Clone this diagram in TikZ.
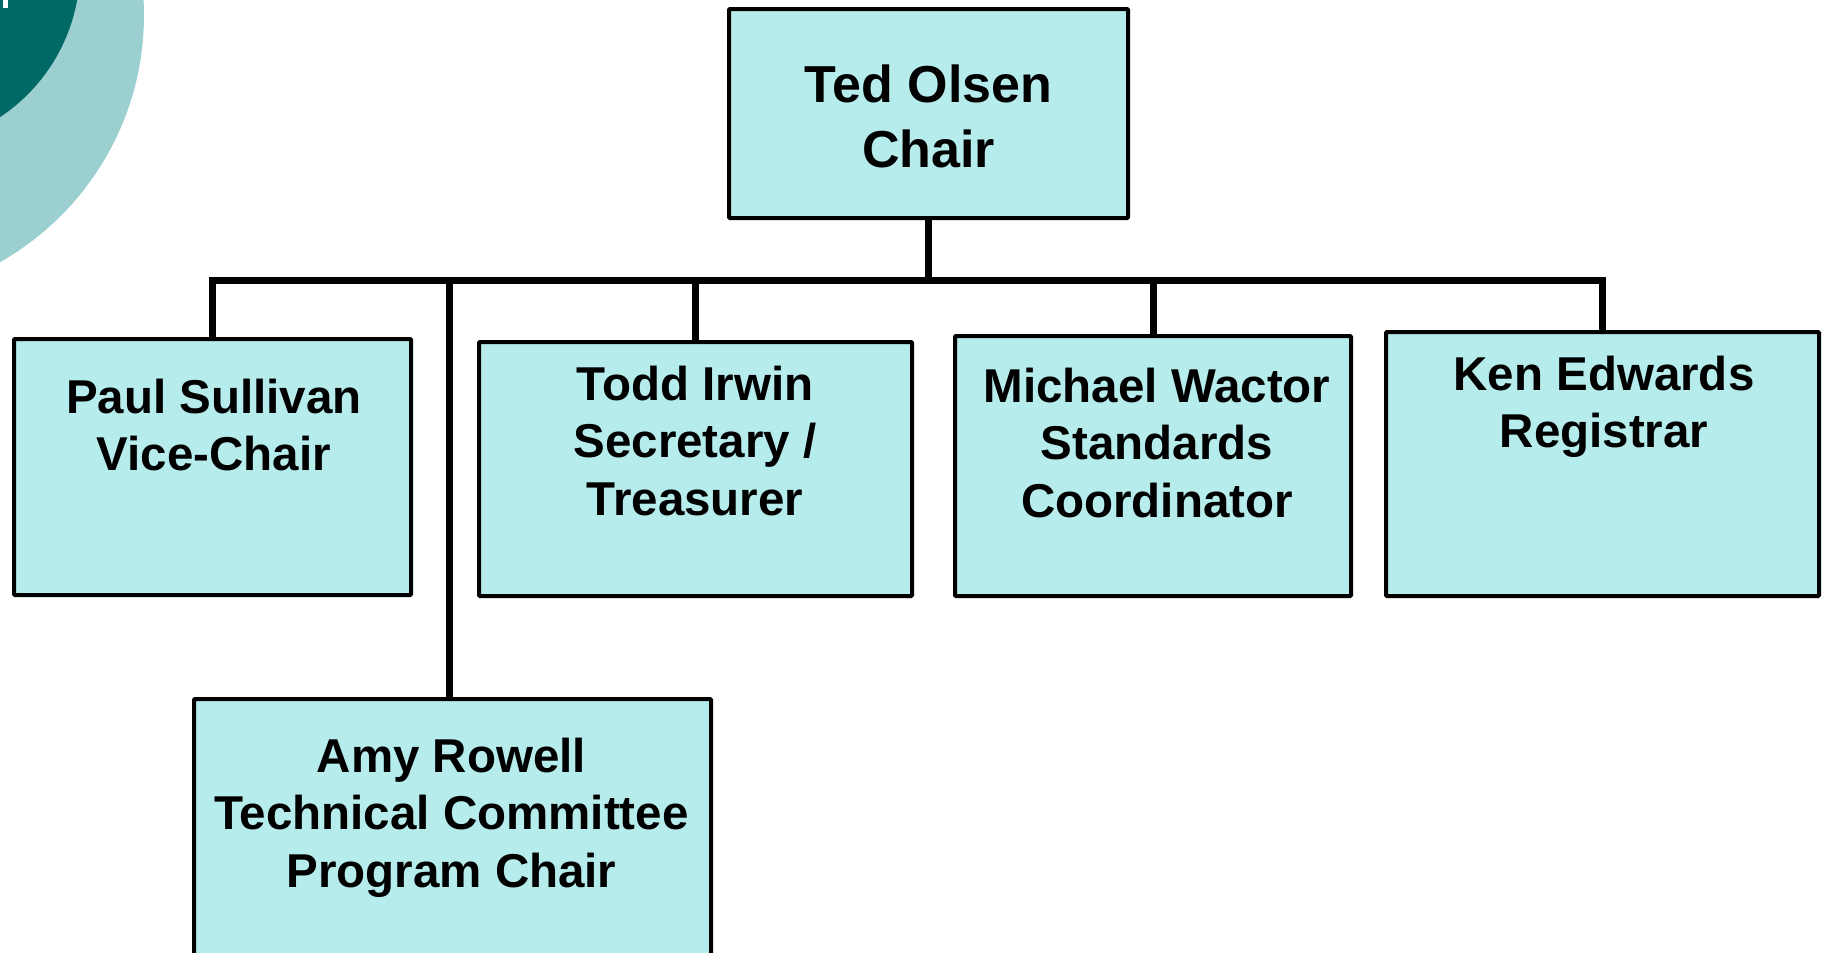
\documentclass[tikz,border=0pt]{standalone}
\usepackage{fontspec}
\setmainfont{Liberation Sans}
\definecolor{boxfill}{RGB}{182,236,236}
\definecolor{lightteal}{RGB}{156,207,207}
\definecolor{darkteal}{RGB}{0,105,102}
\newcommand{\mlines}[1]{\begin{tabular}[t]{@{}c@{}}#1\end{tabular}}
\tikzset{
  orgbox/.style={draw=black, line width=4pt, fill=boxfill, rounded corners=1pt, inner sep=0pt, anchor=center},
  conn/.style={draw=black, line width=7pt, line join=miter, line cap=butt},
  lbl/.style={anchor=base, inner sep=0pt, font=\fontsize{47.5}{57.5}\selectfont\bfseries},
  biglbl/.style={anchor=base, inner sep=0pt, font=\fontsize{52}{65}\selectfont\bfseries},
}
\begin{document}
\begin{tikzpicture}[x=1pt,y=-1pt]
\useasboundingbox (0,0) rectangle (1829,953);
\clip (0,0) rectangle (1829,953);
\fill[white] (0,0) rectangle (1829,953);
% background decoration
\fill[lightteal] (-140,15) circle[radius=284pt];
\fill[darkteal] (-99,-32) circle[radius=179pt];
\fill[white] (3,0) rectangle (8,8);
% boxes
\node[orgbox, minimum width=399pt, minimum height=209pt] (chair) at (928.5,113.5) {};
\node[orgbox, minimum width=397pt, minimum height=256pt] (paul) at (212.5,467) {};
\node[orgbox, minimum width=433pt, minimum height=254pt] (todd) at (695.5,469) {};
\node[orgbox, minimum width=396pt, minimum height=260pt] (michael) at (1153,466) {};
\node[orgbox, minimum width=433pt, minimum height=264pt] (ken) at (1602.5,464) {};
\node[orgbox, minimum width=517pt, minimum height=301pt] (amy) at (452.5,849.5) {};
% texts
\node[biglbl] (chairT) at (928.5,102) {\mlines{Ted Olsen\\Chair}};
\node[lbl] (paulT) at (214,413) {\mlines{Paul Sullivan\\Vice-Chair}};
\node[lbl] (toddT) at (695,400) {\mlines{Todd Irwin\\Secretary /\\Treasurer}};
\node[lbl] (michaelT) at (1157,402) {\mlines{Michael Wactor\\Standards\\Coordinator}};
\node[lbl] (kenT) at (1604,390) {\mlines{Ken Edwards\\Registrar}};
\node[lbl] (amyT) at (451.5,772) {\mlines{Amy Rowell\\Technical Committee\\Program Chair}};
% connectors
\coordinate (bus) at (929,280.5);
\draw[conn] (chair.south) -- (chair.south |- bus);
\draw[conn] (paul.north) -- (paul.north |- bus) -- (ken.north |- bus) -- (ken.north);
\draw[conn] (todd.north) -- (todd.north |- bus);
\draw[conn] (michael.north) -- (michael.north |- bus);
\draw[conn] ([xshift=-3.5pt]amy.north) -- ([xshift=-3.5pt]amy.north |- bus);
\end{tikzpicture}
\end{document}
